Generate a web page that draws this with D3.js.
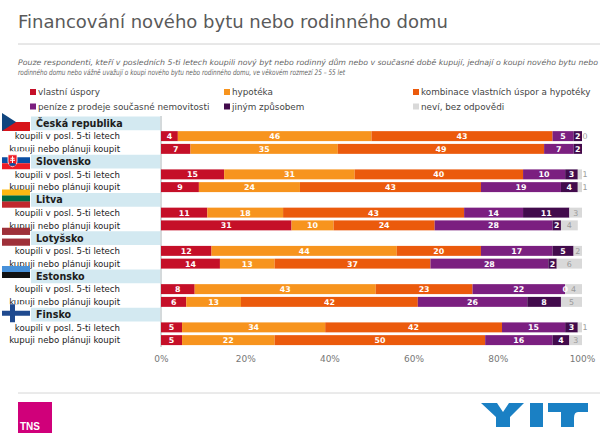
<!doctype html>
<html>
<head>
<meta charset="utf-8">
<title>Financování nového bytu nebo rodinného domu</title>
<style>
  body { margin:0; background:#fff; }
  svg { display:block; font-family:"DejaVu Sans", Verdana, sans-serif; }
  .rowlab { font-size:8.6px; fill:#222; }
  .head { font-size:9.6px; font-weight:bold; fill:#1c1c1c; }
  .seg { font-size:7.9px; font-weight:bold; fill:#fff; }
  .nevi { font-size:7.9px; fill:#999; }
  .leg { font-size:8.8px; fill:#444; }
  .axis text { font-size:9px; fill:#777; font-family:"DejaVu Sans", sans-serif; }
</style>
<script src="https://cdn.jsdelivr.net/npm/d3@7/dist/d3.min.js"></script>
</head>
<body>
<svg id="chart" width="600" height="437"></svg>
<script>

// data
var series = ["vlastní úspory", "hypotéka", "kombinace vlastních úspor a hypotéky",
              "peníze z prodeje současné nemovitosti", "jiným způsobem", "neví, bez odpovědi"]
var countries = ["Česká republika", "Slovensko", "Litva", "Lotyšsko", "Estonsko", "Finsko"]
var rowLabels = ["koupili v posl. 5-ti letech", "kupuji nebo plánuji koupit"]

// one value per row: CZ r1, CZ r2, SK r1, SK r2, LT .., LV .., EE .., FI ..
var vlastni   = [4, 7, 15, 9, 11, 31, 12, 14, 8, 6, 5, 5]
var hypoteka  = [46, 35, 31, 24, 18, 10, 44, 13, 43, 13, 34, 22]
var kombinace = [43, 49, 40, 43, 43, 24, 20, 37, 23, 42, 42, 50]
var prodej    = [5, 7, 10, 19, 14, 28, 17, 28, 22, 26, 15, 16]
var jinym     = [2, 2, 3, 4, 11, 2, 5, 2, 0, 8, 3, 4]
var nevi      = [0, null, 1, 1, 3, 4, 2, 6, 4, 5, 1, 3]

var tickValues = [0, 20, 40, 60, 80, 100]

var colors = ["#c50f28", "#f7941e", "#eb5a0c", "#7b1f80", "#420b4c", "#d9d9d9"]

var svg = d3.select("#chart")

// title + subtitle
svg.append("text").attr("x", 18).attr("y", 28)
   .attr("textLength", 430).attr("lengthAdjust", "spacingAndGlyphs")
   .style("font-size", "18.5px").style("fill", "#5a5a5a")
   .text("Financování nového bytu nebo rodinného domu")
svg.append("line").attr("x1", 18).attr("x2", 600).attr("y1", 44).attr("y2", 44)
   .style("stroke", "#d0d0d0")

var sub = ["Pouze respondenti, kteří v posledních 5-ti letech koupili nový byt nebo rodinný dům nebo v současné době kupují, jednají o koupi nového bytu nebo",
           "rodinného domu nebo vážně uvažují o koupi nového bytu nebo rodinného domu, ve věkovém rozmezí 25 – 55 let"]
svg.selectAll(".sub").data(sub).enter().append("text")
   .attr("x", 18).attr("y", function(d,i){ return 65 + i*9.5 })
   .attr("textLength", function(d,i){ return i == 0 ? 580 : 327 })
   .attr("lengthAdjust", "spacingAndGlyphs")
   .style("font-size", "7.6px").style("font-style", "italic").style("fill", "#666")
   .text(function(d){ return d })

// legend
var legX = [30, 224, 413]
var leg = svg.selectAll(".legitem").data(series).enter().append("g")
   .attr("transform", function(d,i){ return "translate(" + legX[i%3] + "," + (92 + Math.floor(i/3)*14.5) + ")" })
leg.append("rect").attr("x", 0).attr("y", -3).attr("width", 6).attr("height", 6)
   .style("fill", function(d,i){ return colors[i] })
leg.append("text").attr("class", "leg").attr("x", 8).attr("y", 3.2).text(function(d){ return d })

// scales
var x = d3.scaleLinear().domain([0, 100]).range([161, 582])
var slots = []
countries.forEach(function(c){ slots.push(c + "|h"); slots.push(c + "|0"); slots.push(c + "|1") })
var y = d3.scaleBand().domain(slots).range([117, 346.5])
var bw = y.bandwidth()

// table for stacking
var cols = [vlastni, hypoteka, kombinace, prodej, jinym, nevi]
var rows = []
countries.forEach(function(c, ci){
  rowLabels.forEach(function(r, ri){
    var idx = ci*2 + ri
    rows.push({ key: c + "|" + ri, label: r, vals: cols.map(function(a){ return a[idx] }) })
  })
})
var stack = d3.stack().keys(d3.range(series.length))
              .value(function(d, k){ return d.vals[k] == null ? 0 : d.vals[k] })
var layers = stack(rows)

// header bands
svg.selectAll(".band").data(countries).enter().append("rect")
   .attr("x", 31).attr("width", 129)
   .attr("y", function(d){ return y(d + "|h") - 0.5 }).attr("height", bw + 1)
   .style("fill", "#d3e9f1")
svg.selectAll(".head").data(countries).enter().append("text")
   .attr("class", "head").attr("x", 36)
   .attr("y", function(d){ return y(d + "|h") + bw/2 + 3.5 })
   .text(function(d){ return d })

// row labels
svg.selectAll(".rowlab").data(rows).enter().append("text")
   .attr("class", "rowlab").attr("x", 120).attr("text-anchor", "end")
   .attr("y", function(d){ return y(d.key) + bw/2 + 3.2 })
   .text(function(d){ return d.label })

// axis line
svg.append("line").attr("x1", 161).attr("x2", 161).attr("y1", 116).attr("y2", 347)
   .style("stroke", "#a9b4b8")

// bars
var g = svg.selectAll(".layer").data(layers).enter().append("g")
   .style("fill", function(d, i){ return colors[i] })
g.selectAll("rect").data(function(d){ return d }).enter().append("rect")
   .attr("x", function(d){ return x(d[0]) })
   .attr("width", function(d){ return x(d[1]) - x(d[0]) })
   .attr("y", function(d){ return y(d.data.key) + 1.4 })
   .attr("height", bw - 2.8)

// value labels
layers.forEach(function(layer, li){
  layer.forEach(function(d){
    var v = d.data.vals[li]
    if (v == null) return
    var x0 = x(d[0]), x1 = x(d[1])
    var t = svg.append("text").attr("y", y(d.data.key) + bw/2 + 2.9).text(v)
    if (li == 5) {
      t.attr("class", "nevi")
      if (v < 2) t.attr("x", x1 + 0.5).attr("text-anchor", "start")
      else t.attr("x", (x0 + x1)/2).attr("text-anchor", "middle")
    } else {
      t.attr("class", "seg").attr("x", (x0 + x1)/2).attr("text-anchor", "middle")
    }
  })
})

// x axis
svg.append("g").attr("class", "axis")
   .attr("transform", "translate(0,350)")
   .call(d3.axisBottom(x).tickValues(tickValues).tickSize(0).tickPadding(6)
           .tickFormat(function(d){ return d + "%" }))
   .call(function(a){ a.select(".domain").remove() })

// flags
function flag(i, top) {
  var f = svg.append("g").attr("transform", "translate(2," + top + ")")
  var w = 28, h = 18
  if (i == 0) {
    f.append("rect").attr("width", w).attr("height", h/2).style("fill", "#fff")
    f.append("rect").attr("y", h/2).attr("width", w).attr("height", h/2).style("fill", "#d7141a")
    f.append("path").attr("d", "M0,0L14,9L0,18Z").style("fill", "#11457e")
  } else if (i == 1) {
    f.append("rect").attr("width", w).attr("height", h/3).style("fill", "#fff")
    f.append("rect").attr("y", h/3).attr("width", w).attr("height", h/3).style("fill", "#0b4ea2")
    f.append("rect").attr("y", 2*h/3).attr("width", w).attr("height", h/3).style("fill", "#ee1c25")
    f.append("path").attr("d", "M6,3.5L15,3.5L15,10Q15,14 10.5,15.5Q6,14 6,10Z")
     .style("fill", "#ee1c25").style("stroke", "#fff").style("stroke-width", 0.8)
    f.append("path").attr("d", "M10.5,5V12M8.5,7H12.5M8,9H13").style("stroke", "#fff").style("stroke-width", 1)
    f.append("path").attr("d", "M7,13Q10.5,10.5 14,13L13,14.5L8,14.5Z").style("fill", "#0b4ea2")
  } else if (i == 2) {
    ["#fdb913", "#006a44", "#c1272d"].forEach(function(c, k){
      f.append("rect").attr("y", k*h/3).attr("width", w).attr("height", h/3 + 0.2).style("fill", c)
    })
  } else if (i == 3) {
    f.append("rect").attr("width", w).attr("height", h).style("fill", "#9e3039")
    f.append("rect").attr("y", h*0.4).attr("width", w).attr("height", h*0.2).style("fill", "#fff")
  } else if (i == 4) {
    ["#4891d9", "#111", "#fff"].forEach(function(c, k){
      f.append("rect").attr("y", k*h/3).attr("width", w).attr("height", h/3 + 0.2).style("fill", c)
    })
  } else {
    f.append("rect").attr("width", w).attr("height", h).style("fill", "#fff")
    f.append("rect").attr("x", 8).attr("width", 5).attr("height", h).style("fill", "#1f4a8f")
    f.append("rect").attr("y", 6.5).attr("width", w).attr("height", 5).style("fill", "#1f4a8f")
  }
}
countries.forEach(function(c, i){ flag(i, y(c + "|h") - 4) })

// footer
svg.append("line").attr("x1", 18).attr("x2", 600).attr("y1", 393).attr("y2", 393)
   .style("stroke", "#d6d6d6")
svg.append("rect").attr("x", 18).attr("y", 402).attr("width", 34).attr("height", 31)
   .style("fill", "#d0007a")
svg.append("text").attr("x", 20).attr("y", 430).text("TNS")
   .style("font-size", "10px").style("font-weight", "bold").style("fill", "#fff")
   .style("font-family", "'Liberation Sans Narrow', 'Liberation Sans', sans-serif")

var yit = svg.append("g").style("fill", "#1a80c4")
yit.append("path").attr("d", "M481,403L497,403L503,412L509,403L524,403L510,417L510,427L496,427L496,417Z")
yit.append("rect").attr("x", 530).attr("y", 403).attr("width", 13).attr("height", 24)
yit.append("path").attr("d", "M548,403L588,403L588,412L578,412Q574,412 574,418L574,427L561,427L561,412L548,412Z")

</script>
</body>
</html>
